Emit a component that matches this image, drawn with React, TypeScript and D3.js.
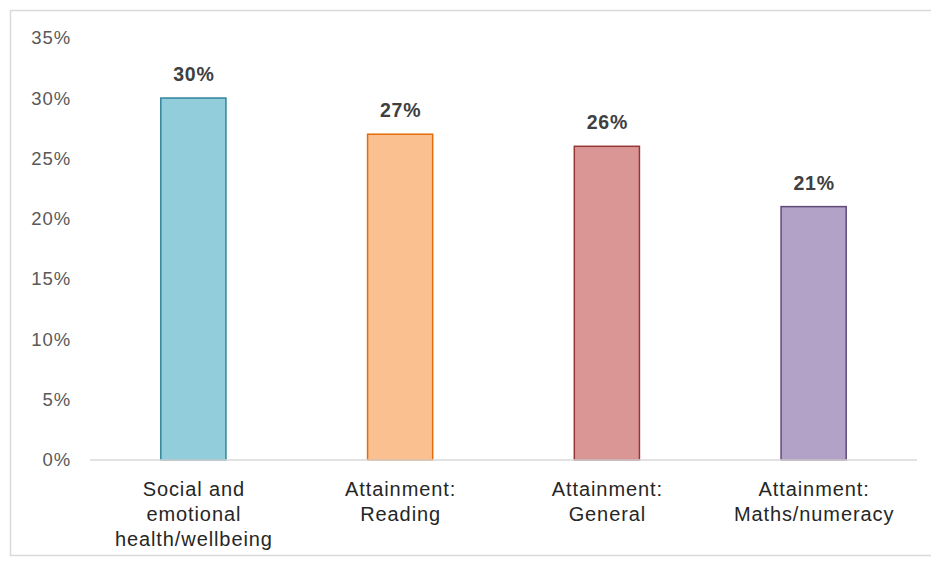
import React from "react";
import * as d3 from "d3";

const categories: string[][] = [
  ["Social and", "emotional", "health/wellbeing"],
  ["Attainment:", "Reading"],
  ["Attainment:", "General"],
  ["Attainment:", "Maths/numeracy"],
];
const values: number[] = [30, 27, 26, 21];
const valueLabels: string[] = ["30%", "27%", "26%", "21%"];
const yTicks: number[] = [0, 5, 10, 15, 20, 25, 30, 35];
const fills: string[] = ["#92CDDC", "#FAC090", "#D99694", "#B3A2C7"];
const strokes: string[] = ["#31849B", "#E46C0A", "#953735", "#604A7B"];

export default function App() {
  const W = 931, H = 564;
  const left = 90, right = 917, top = 37.7, bottom = 460;
  const x = d3.scaleBand<number>().domain(d3.range(values.length)).range([left, right]).paddingInner(0.685).paddingOuter(0.3425);
  const y = d3.scaleLinear().domain([0, 35]).range([bottom, top]);
  const font = "Liberation Sans, Arial, sans-serif";
  return (
    <svg width={W} height={H} style={{ position: "absolute", left: 0, top: 0, background: "#fff" }} fontFamily={font}>
      <rect x={10.5} y={10.5} width={940} height={545} fill="#fff" stroke="#d9d9d9" strokeWidth={1.5} />
      {yTicks.map((t) => (
        <text key={t} x={71} y={y(t)} dy="0.35em" textAnchor="end" fontSize={18.5} letterSpacing={0.9} fill="#595959">
          {t}%
        </text>
      ))}
      {values.map((v, i) => (
        <g key={i}>
          <rect x={x(i)!} y={y(v)} width={x.bandwidth()} height={bottom - y(v)} fill={fills[i]} stroke={strokes[i]} strokeWidth={1.5} />
          <text x={x(i)! + x.bandwidth() / 2 + 0.5} y={y(v) - 17} textAnchor="middle" fontSize={19.5} fontWeight="bold" letterSpacing={0.8} fill="#404040">
            {valueLabels[i]}
          </text>
          {categories[i].map((line, j) => (
            <text key={j} x={x(i)! + x.bandwidth() / 2 + 0.5} y={496 + j * 25} textAnchor="middle" fontSize={20} letterSpacing={0.9} fill="#262626">
              {line}
            </text>
          ))}
        </g>
      ))}
      <line x1={left} x2={right} y1={bottom} y2={bottom} stroke="#d9d9d9" strokeWidth={1.5} />
    </svg>
  );
}
